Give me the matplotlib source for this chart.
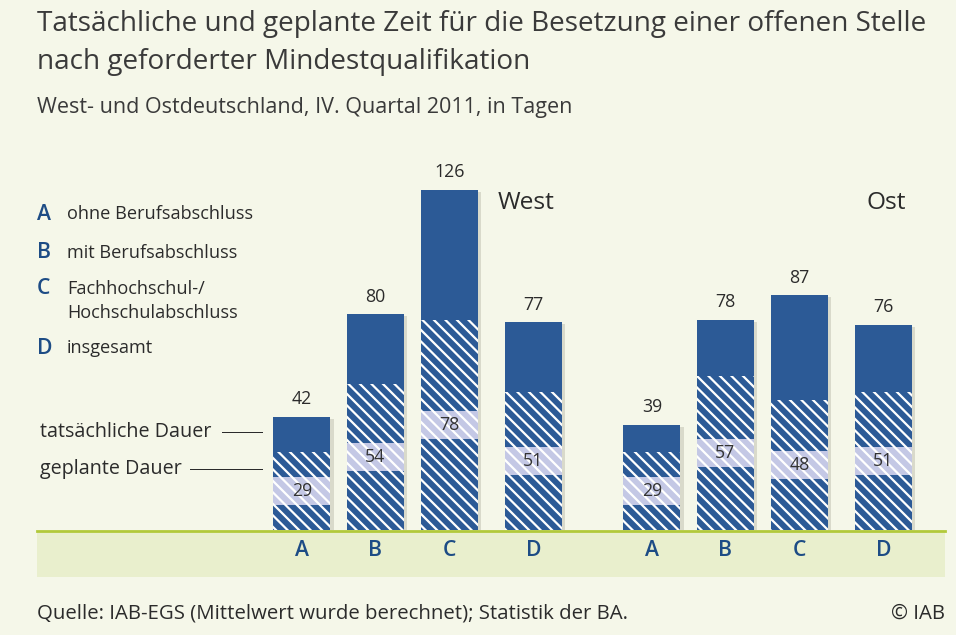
import matplotlib.pyplot as plt
import matplotlib.patheffects as pe
from matplotlib.patches import Rectangle
from matplotlib.lines import Line2D
from matplotlib.collections import LineCollection
import numpy as np

# data (days)
categories = ["A", "B", "C", "D"]
regions = ["West", "Ost"]
actual_west = [42, 80, 126, 77]
planned_west = [29, 54, 78, 51]
actual_ost = [39, 78, 87, 76]
planned_ost = [29, 57, 48, 51]

legend_letters = ["A", "B", "C", "D"]
legend_labels = ["ohne Berufsabschluss", "mit Berufsabschluss",
                 "Fachhochschul-/\nHochschulabschluss", "insgesamt"]

title_lines = ["Tatsächliche und geplante Zeit für die Besetzung einer offenen Stelle",
               "nach geforderter Mindestqualifikation"]
subtitle = "West- und Ostdeutschland, IV. Quartal 2011, in Tagen"
source = "Quelle: IAB-EGS (Mittelwert wurde berechnet); Statistik der BA."

# style
W, H, DPI = 956, 635, 80
BG = "#f5f7e9"
BAND = "#e9efcd"
GREEN = "#b2c93a"
BLUE = "#2c5a96"
LAV = "#c4c8e5"
DARKBLUE = "#1d4c85"
TXT = "#2b2b2b"

plt.rcParams["font.family"] = ["Open Sans", "DejaVu Sans"]


def fx(px):
    return px / W


def fy(py):
    return 1 - py / H


fig = plt.figure(figsize=(W / DPI, H / DPI), dpi=DPI, facecolor=BG)

# axis area: baseline at y=530 px, 2.7 px per day
base_px = 530
px_per_day = 2.698
ymax = 140
ax = fig.add_axes([0, fy(base_px), 1, ymax * px_per_day / H])
ax.set_xlim(0, W)
ax.set_ylim(0, ymax)
ax.axis("off")
ax.patch.set_alpha(0)

# bar layout
bar_w = 57
offsets = np.array([0, 73.5, 147.5, 231.5])
group_start = {"West": 302, "Ost": 652}
band_h = 10.5
hatch_step = 11.5  # px, horizontal distance of the white stripes


def add_hatch(patch):
    # white diagonal stripes (top-left to bottom-right), clipped to the bar
    x0, y0 = patch.get_x(), patch.get_y()
    x1, y1 = x0 + patch.get_width(), y0 + patch.get_height()
    span = (y1 - y0) * px_per_day
    cmin = x0 + y0 * px_per_day
    cmax = x1 + y1 * px_per_day
    segs = []
    for c in np.arange(np.floor(cmin / hatch_step), np.ceil(cmax / hatch_step) + 1) * hatch_step:
        xa, xb = x0 - span - 20, x1 + span + 20
        segs.append([(xa, (c - xa) / px_per_day), (xb, (c - xb) / px_per_day)])
    lc = LineCollection(segs, colors="white", linewidths=2.0, zorder=patch.get_zorder() + 0.1)
    ax.add_collection(lc)
    lc.set_clip_path(patch)


shadow = [pe.SimplePatchShadow(offset=(3, -2), shadow_rgbFace="#b8b8a8", alpha=0.45), pe.Normal()]

data = {"West": (actual_west, planned_west), "Ost": (actual_ost, planned_ost)}
for reg in regions:
    actual, planned = data[reg]
    x = group_start[reg] + offsets
    planned = np.array(planned)
    bars = ax.bar(x, actual, width=bar_w, color=BLUE, linewidth=0, zorder=2)
    for b in bars:
        b.set_path_effects(shadow)
    for b in ax.bar(x, planned, width=bar_w, color=BLUE, linewidth=0, zorder=3):
        add_hatch(b)
    for b in ax.bar(x, band_h, bottom=planned / 2 - band_h / 2, width=bar_w, color=LAV,
                    linewidth=0, zorder=4):
        add_hatch(b)
    for xi, a, p in zip(x, actual, planned):
        ax.text(xi, a + 3.2, str(a), ha="center", va="bottom", fontsize=16,
                color=TXT, zorder=6)
        ax.text(xi, p / 2, str(p), ha="center", va="center", fontsize=16,
                color="#333333", zorder=6)
    for xi, c in zip(x, categories):
        fig.text(fx(xi), fy(551), c, ha="center", va="center", fontsize=19,
                 color=DARKBLUE, fontweight="semibold")

# region labels
fig.text(fx(498), fy(203), "West", ha="left", va="center", fontsize=22, color=TXT)
fig.text(fx(867), fy(203), "Ost", ha="left", va="center", fontsize=22, color=TXT)

# ground band and line
fig.add_artist(Rectangle((fx(37), fy(577)), fx(945) - fx(37), fy(532) - fy(577),
                         transform=fig.transFigure, facecolor=BAND, edgecolor="none", zorder=0))
fig.add_artist(Line2D([fx(37), fx(945)], [fy(531), fy(531)], transform=fig.transFigure,
                      color=GREEN, lw=2.5, zorder=6))

# titles
fig.text(fx(37), fy(24), title_lines[0], ha="left", va="center", fontsize=25.1, color="#3a3a3a")
fig.text(fx(37), fy(62), title_lines[1], ha="left", va="center", fontsize=25.1, color="#3a3a3a")
fig.text(fx(37), fy(108), subtitle, ha="left", va="center", fontsize=19.3, color="#3a3a3a")

# legend
letter_rows = [214, 253, 289, 348]
label_rows = [214, 253, 289, 348]
for letter, label, yl, yt in zip(legend_letters, legend_labels, letter_rows, label_rows):
    fig.text(fx(37), fy(yl), letter, ha="left", va="center", fontsize=19,
             color=DARKBLUE, fontweight="semibold")
    for i, part in enumerate(label.split("\n")):
        fig.text(fx(67), fy(yt + 24 * i), part, ha="left", va="center", fontsize=16.3,
                 color=TXT)

# annotations for actual / planned
fig.text(fx(40), fy(432), "tatsächliche Dauer", ha="left", va="center", fontsize=17.8, color=TXT)
fig.add_artist(Line2D([fx(222), fx(262)], [fy(432), fy(432)], transform=fig.transFigure,
                      color=TXT, lw=0.9))
fig.text(fx(40), fy(469), "geplante Dauer", ha="left", va="center", fontsize=17.8, color=TXT)
fig.add_artist(Line2D([fx(190), fx(262)], [fy(469), fy(469)], transform=fig.transFigure,
                      color=TXT, lw=0.9))

# footer
fig.text(fx(37), fy(614), source, ha="left", va="center", fontsize=18.4, color=TXT)
fig.text(fx(945), fy(614), "© IAB", ha="right", va="center", fontsize=18.4, color=TXT)

fig.savefig("out.png", dpi=DPI, facecolor=BG)
